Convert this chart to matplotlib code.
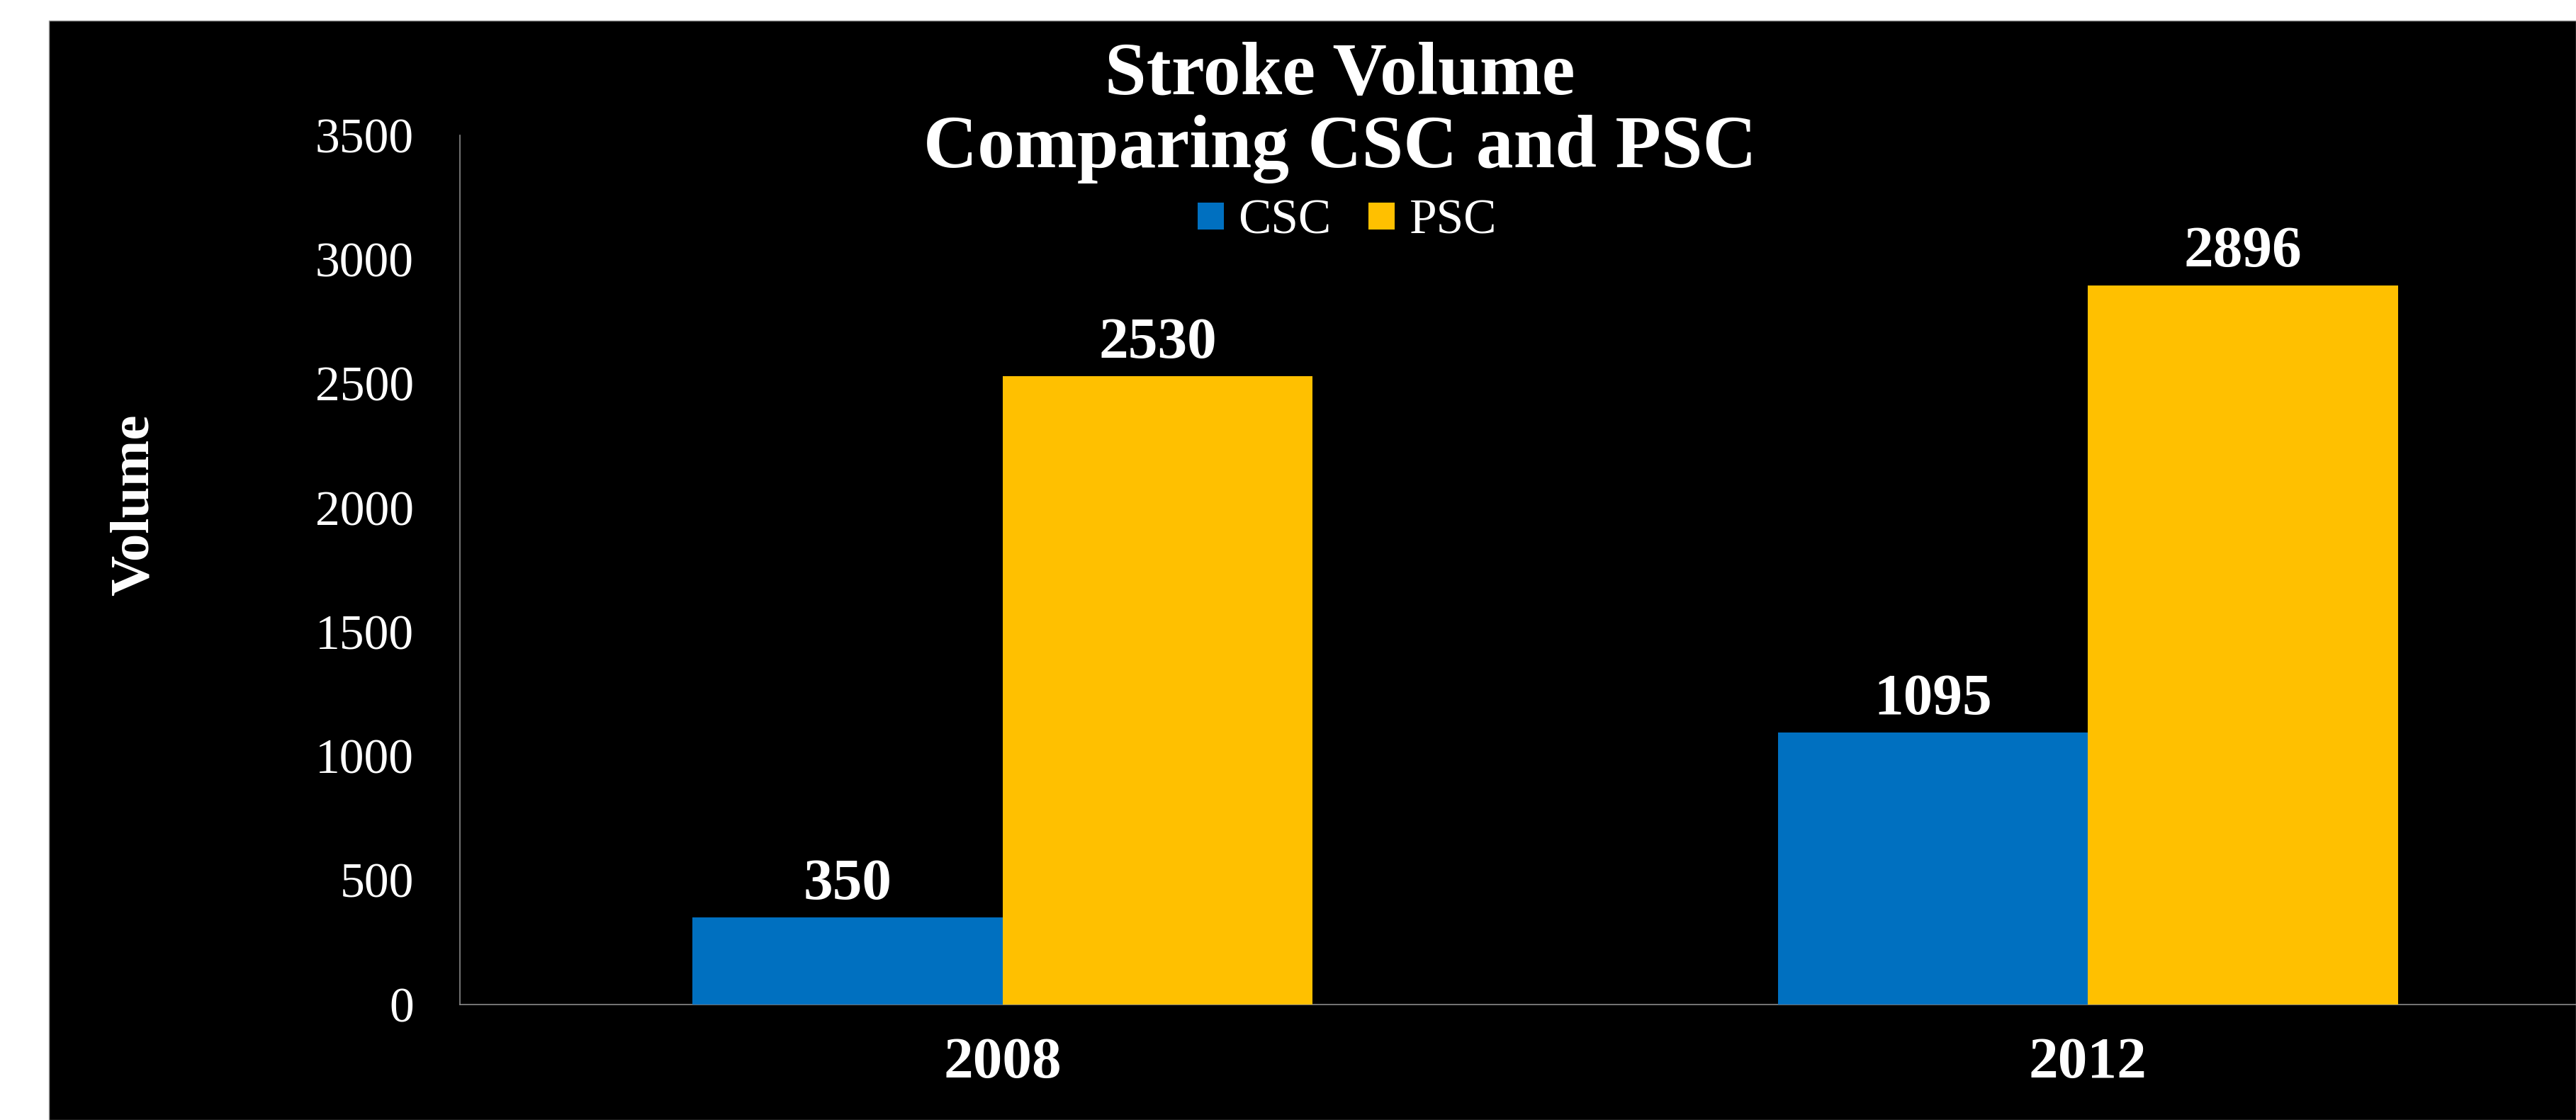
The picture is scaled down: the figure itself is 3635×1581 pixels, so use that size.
import numpy as np
import matplotlib
matplotlib.use('Agg')
import matplotlib.pyplot as plt
from matplotlib.patches import Rectangle

# datos
years = ['2008', '2012']
csc = [350, 1095]
psc = [2530, 2896]
y_ticks = [0, 500, 1000, 1500, 2000, 2500, 3000, 3500]

W, H = 3635, 1581
plt.rcParams['font.family'] = ['Liberation Serif', 'DejaVu Serif']

fig = plt.figure(figsize=(W / 100, H / 100), dpi=100, facecolor='white')

# fondo negro (la imagen tiene un margen blanco arriba y a la izquierda)
bg = Rectangle((69 / W, 0), 1 - 69 / W, 1 - 29 / H,
               transform=fig.transFigure, facecolor='black',
               edgecolor='#a0a0a0', linewidth=1, zorder=-10)
fig.patches.append(bg)

ax = fig.add_axes([649 / W, (H - 1418) / H, 3712 / W - 649 / W, (1418 - 191) / H])
ax.set_facecolor('none')
ax.set_zorder(1)

x = np.arange(len(years))
w = 1 / 3.5
b1 = ax.bar(x - w / 2, csc, w, color='#0070C0', label='CSC', zorder=3)
b2 = ax.bar(x + w / 2, psc, w, color='#FFC000', label='PSC', zorder=3)

for bars in (b1, b2):
    ax.bar_label(bars, padding=6, color='white', fontsize=60, fontweight='bold')

ax.set_xlim(-0.5, 1.5)
ax.set_ylim(0, 3500)
ax.set_yticks(y_ticks)
ax.set_xticks(x)
ax.set_xticklabels(years, fontsize=60, fontweight='bold', color='white')
ax.tick_params(axis='y', length=0, pad=47, labelsize=50, labelcolor='white')
ax.tick_params(axis='x', length=0, pad=33)

for s in ['top', 'right']:
    ax.spines[s].set_visible(False)
for s in ['left', 'bottom']:
    ax.spines[s].set_color('#898989')
    ax.spines[s].set_linewidth(1.2)

fig.text(190 / W, 1 - 713 / H, 'Volume', rotation=90, ha='center', va='center',
         fontsize=57, fontweight='bold', color='white')

fig.text(1891 / W, 1 - 133 / H, 'Stroke Volume', ha='center', va='baseline',
         fontsize=76, fontweight='bold', color='white')
fig.text(1891 / W, 1 - 236 / H, 'Comparing CSC and PSC', ha='center', va='baseline',
         fontsize=76, fontweight='bold', color='white')

leg = ax.legend(loc='center', bbox_to_anchor=(1901 / W, 1 - 313 / H),
                bbox_transform=fig.transFigure, ncol=2, frameon=False,
                fontsize=50, labelcolor='white', handlelength=0.53,
                handleheight=0.46, handletextpad=0.3, columnspacing=0.75,
                borderpad=0, borderaxespad=0)

fig.savefig('out.png', dpi=100, facecolor='white')
